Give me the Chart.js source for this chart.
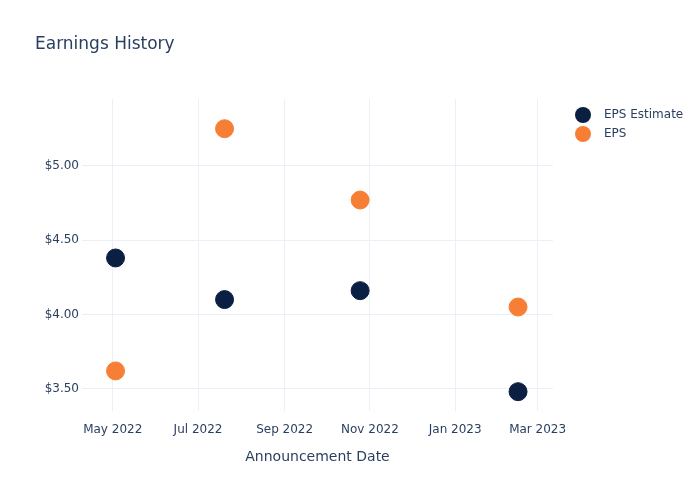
<!DOCTYPE html>
<html>
<head>
<meta charset="utf-8">
<script src="https://cdn.jsdelivr.net/npm/chart.js@4.4.0/dist/chart.umd.min.js"></script>
<style>
  html, body { margin: 0; padding: 0; background: #fff; }
  #wrap { width: 700px; height: 500px; }
</style>
</head>
<body>
<div id="wrap"><canvas id="chart"></canvas></div>
<script>
// data
const announceDates = ['2022-05-03', '2022-07-20', '2022-10-25', '2023-02-15'];
const epsEstimate = [4.38, 4.10, 4.16, 3.48];
const epsActual = [3.62, 5.25, 4.77, 4.05];
const seriesNames = ['EPS Estimate', 'EPS'];
const seriesColors = ['#0b1f42', '#f77f35'];
const xTickDates = ['2022-05-01', '2022-07-01', '2022-09-01', '2022-11-01', '2023-01-01', '2023-03-01'];
const yTickValues = [3.5, 4.0, 4.5, 5.0];
const months = ['Jan', 'Feb', 'Mar', 'Apr', 'May', 'Jun', 'Jul', 'Aug', 'Sep', 'Oct', 'Nov', 'Dec'];

const ts = s => Date.parse(s + 'T00:00:00Z');
const fontFamily = '"DejaVu Sans", Verdana, sans-serif';
const textColor = '#2a3f5f';
const gridColor = '#ebf0f8';

const toPoints = vals => vals.map((v, i) => ({ x: ts(announceDates[i]), y: v }));

// title + legend drawn on the canvas
const extras = {
    id: 'extras',
    afterDraw(chart) {
        const c = chart.ctx;
        c.save();
        c.fillStyle = textColor;
        c.textBaseline = 'middle';
        c.font = '17px ' + fontFamily;
        c.fillText('Earnings History', 35, 45);
        c.font = '12px ' + fontFamily;
        seriesNames.forEach((name, i) => {
            const y = 115 + i * 19;
            c.beginPath();
            c.arc(583, y, 8, 0, Math.PI * 2);
            c.fillStyle = seriesColors[i];
            c.fill();
            c.fillStyle = textColor;
            c.fillText(name, 604, y);
        });
        c.restore();
    }
};

new Chart(document.getElementById('chart'), {
    type: 'scatter',
    data: {
        datasets: [
            { label: seriesNames[0], data: toPoints(epsEstimate), backgroundColor: seriesColors[0], borderColor: seriesColors[0], pointRadius: 9, pointHoverRadius: 9 },
            { label: seriesNames[1], data: toPoints(epsActual), backgroundColor: seriesColors[1], borderColor: seriesColors[1], pointRadius: 9, pointHoverRadius: 9 }
        ]
    },
    options: {
        responsive: true,
        maintainAspectRatio: false,
        animation: false,
        layout: { padding: { top: 99, right: 147, bottom: 0, left: 0 } },
        plugins: {
            legend: { display: false },
            tooltip: { enabled: false }
        },
        scales: {
            x: {
                type: 'linear',
                min: ts('2022-04-09'),
                max: ts('2023-03-12'),
                border: { display: false },
                grid: { color: gridColor, drawTicks: false },
                afterBuildTicks: s => { s.ticks = xTickDates.map(d => ({ value: ts(d) })); },
                afterFit: s => { s.height = 89; },
                ticks: {
                    padding: 12,
                    maxRotation: 0,
                    color: textColor,
                    font: { family: fontFamily, size: 12 },
                    callback: v => { const d = new Date(v); return months[d.getUTCMonth()] + ' ' + d.getUTCFullYear(); }
                },
                title: {
                    display: true,
                    text: 'Announcement Date',
                    color: textColor,
                    font: { family: fontFamily, size: 14 },
                    padding: { top: 0, bottom: 34 }
                }
            },
            y: {
                min: 3.35,
                max: 5.45,
                border: { display: false },
                grid: { color: gridColor, drawTicks: false },
                afterBuildTicks: s => { s.ticks = yTickValues.map(v => ({ value: v })); },
                afterFit: s => { s.width = 82; },
                ticks: {
                    padding: 3,
                    color: textColor,
                    font: { family: fontFamily, size: 12 },
                    callback: v => '$' + v.toFixed(2)
                }
            }
        }
    },
    plugins: [extras]
});
</script>
</body>
</html>
